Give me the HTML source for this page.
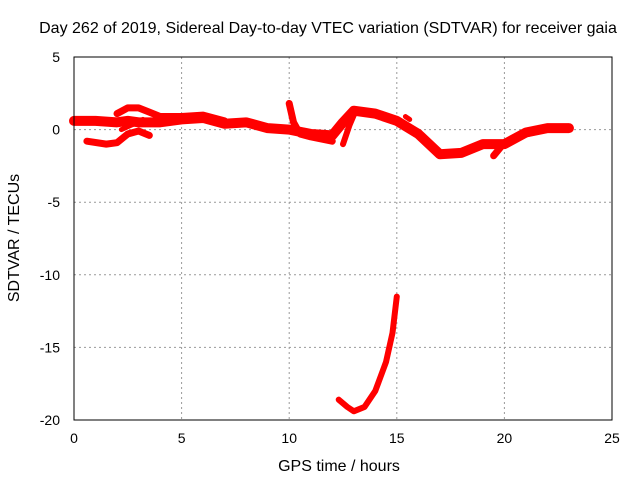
<!DOCTYPE html>
<html><head><meta charset="utf-8"><style>
body{margin:0;background:#fff}
svg{display:block;font-family:"Liberation Sans",sans-serif}
</style></head><body>
<svg id="chart" width="640" height="480">
<text x="328" y="33" font-size="16" text-anchor="middle">Day 262 of 2019, Sidereal Day-to-day VTEC variation (SDTVAR) for receiver gaia</text>
<text x="339" y="471" font-size="16" text-anchor="middle">GPS time / hours</text>
<text transform="translate(19,238) rotate(-90)" font-size="16" text-anchor="middle">SDTVAR / TECUs</text>
<g id="grid"></g><g id="series"></g>
<rect x="74" y="57" width="538" height="363" fill="none" stroke="#000" stroke-width="1"/>
</svg>
<script>
const xTicks=[0,5,10,15,20,25];
const yTicks=[5,0,-5,-10,-15,-20];
const mainX=[0,1,2,2.5,3,4,5,6,7,8,9,10,11,12,12.5,13,14,15,16,16.5,17,18,19,20,21,22,23];
const mainY=[0.6,0.6,0.5,0.6,0.5,0.5,0.7,0.8,0.4,0.5,0.1,0,-0.3,-0.4,0.5,1.3,1.1,0.6,-0.3,-1,-1.7,-1.6,-1,-1,-0.2,0.1,0.1];
const arcX=[2,2.5,3,3.5,4,5,6,7];
const arcY=[1.1,1.5,1.5,1.2,0.9,0.9,1.0,0.6];
const lowBandX=[0.6,1.5,2,2.5,3,3.5];
const lowBandY=[-0.8,-1.0,-0.9,-0.3,-0.1,-0.4];
const midX=[2.2,2.8,3.2];
const midY=[0.0,0.4,0.7];
const dipX=[10,10.2,10.5,11,12];
const dipY=[1.8,0.5,-0.3,-0.5,-0.8];
const riseX=[12.5,12.8,13];
const riseY=[-1.0,0.3,1.0];
const tailX=[19.5,20,21,22];
const tailY=[-1.8,-0.9,-0.3,0.1];
const blobX=[15.4,15.6];
const blobY=[0.9,0.7];
const curveX=[12.3,12.7,13,13.5,14,14.5,14.8,15];
const curveY=[-18.6,-19.1,-19.4,-19.1,-18,-16,-14,-11.5];
const NS="http://www.w3.org/2000/svg";
const L=74,R=612,T=57,B=420;
const sx=v=>L+(v-0)/25*(R-L);
const sy=v=>T+(5-v)/25*(B-T);
const grid=document.getElementById('grid');
xTicks.forEach(t=>{
 const x=sx(t);
 if(t>0&&t<25){const l=document.createElementNS(NS,'line');
 l.setAttribute('x1',x);l.setAttribute('x2',x);l.setAttribute('y1',T);l.setAttribute('y2',B);
 l.setAttribute('stroke','#999');l.setAttribute('stroke-dasharray','2,3');
 
 grid.appendChild(l);}
 const tx=document.createElementNS(NS,'text');tx.setAttribute('x',x);tx.setAttribute('y',B+23);
 tx.setAttribute('font-size','14');tx.setAttribute('text-anchor','middle');tx.textContent=t;
 
 grid.appendChild(tx);
});
yTicks.forEach(t=>{
 const y=sy(t);
 if(t<5&&t>-20){const l=document.createElementNS(NS,'line');
 l.setAttribute('x1',L);l.setAttribute('x2',R);l.setAttribute('y1',y);l.setAttribute('y2',y);
 l.setAttribute('stroke','#999');l.setAttribute('stroke-dasharray','2,3');
 
 grid.appendChild(l);}
 const tx=document.createElementNS(NS,'text');tx.setAttribute('x',L-14);tx.setAttribute('y',y+5);
 tx.setAttribute('font-size','14');tx.setAttribute('text-anchor','end');tx.textContent=t;
 
 grid.appendChild(tx);
});
const ser=document.getElementById('series');
function draw(xs,ys,w,name){
 const p=document.createElementNS(NS,'polyline');
 p.setAttribute('points',xs.map((x,i)=>sx(x)+','+sy(ys[i])).join(' '));
 p.setAttribute('fill','none');p.setAttribute('stroke','#f00');p.setAttribute('stroke-width',w);
 p.setAttribute('stroke-linejoin','round');p.setAttribute('stroke-linecap','round');
 
 ser.appendChild(p);
}
draw(mainX,mainY,10,'series-main-band');
draw(arcX,arcY,7,'series-upper-arc');
draw(lowBandX,lowBandY,7,'series-lower-band');
draw(midX,midY,5,'series-mid-arc');
draw(dipX,dipY,7,'series-dip');
draw(riseX,riseY,6,'series-rise');
draw(tailX,tailY,7,'series-tail');
draw(blobX,blobY,5,'series-blob');
draw(curveX,curveY,6,'series-low-curve');
</script>
</body></html>
